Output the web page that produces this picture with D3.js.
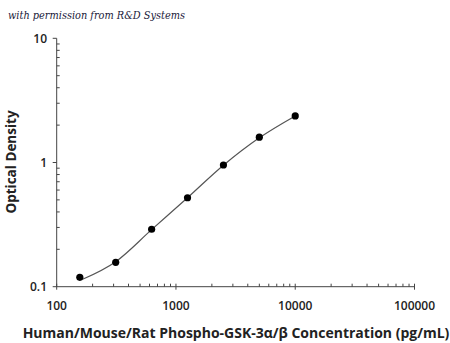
<!DOCTYPE html>
<html><head><meta charset="utf-8">
<script src="https://cdn.jsdelivr.net/npm/d3@7"></script>
<style>body{margin:0;background:#fff}svg{display:block}</style>
</head><body>
<svg id="c" width="450" height="343"></svg>
<script>
const concentrations = [156.25, 312.5, 625, 1250, 2500, 5000, 10000];
const odValues = [0.119, 0.157, 0.29, 0.52, 0.955, 1.6, 2.37];
const curveX = [165, 312.5, 625, 1250, 2500, 5000, 10000];
const curveY = [0.1147, 0.159, 0.288, 0.52, 0.95, 1.58, 2.37];
const xTickLabels = ["100", "1000", "10000", "100000"];
const yTickLabels = ["0.1", "1", "10"];

const svg = d3.select("#c");
const x = d3.scaleLog().domain([100, 100000]).range([56.7, 414.5]);
const y = d3.scaleLog().domain([0.1, 10]).range([286.7, 38.3]);
const font = "'Open Sans', 'DejaVu Sans', sans-serif";

svg.append("text").attr("x", 8).attr("y", 19)
  .attr("font-family", "'DejaVu Serif', serif").attr("font-style", "italic")
  .attr("font-size", 11).attr("fill", "#1a1a3a")
  .attr("textLength", 177).attr("lengthAdjust", "spacingAndGlyphs")
  .text("with permission from R&D Systems");

// minor ticks
const xMinor = [];
for (let d = 100; d < 100000; d *= 10) for (let k = 2; k <= 9; k++) xMinor.push(d * k);
const yMinor = [];
for (let d = 0.1; d < 10; d *= 10) for (let k = 2; k <= 9; k++) yMinor.push(+(d * k).toFixed(3));

const ax = svg.append("g").attr("stroke", "#444").attr("stroke-width", 1);
ax.append("line").attr("x1", x(100)).attr("x2", x(100000)).attr("y1", y(0.1)).attr("y2", y(0.1));
ax.append("line").attr("x1", x(100)).attr("x2", x(100)).attr("y1", y(0.1)).attr("y2", y(10));
ax.selectAll(".xm").data(xMinor).join("line")
  .attr("x1", d => x(d)).attr("x2", d => x(d)).attr("y1", y(0.1)).attr("y2", y(0.1) - 3);
ax.selectAll(".xM").data(xTickLabels).join("line")
  .attr("x1", d => x(+d)).attr("x2", d => x(+d)).attr("y1", y(0.1) - 3).attr("y2", y(0.1) + 3);
ax.selectAll(".ym").data(yMinor).join("line")
  .attr("x1", x(100)).attr("x2", x(100) + 3).attr("y1", d => y(d)).attr("y2", d => y(d));
ax.selectAll(".yM").data(yTickLabels).join("line")
  .attr("x1", x(100) - 4).attr("x2", x(100)).attr("y1", d => y(+d)).attr("y2", d => y(+d));

svg.selectAll(".xl").data(xTickLabels).join("text")
  .attr("x", d => x(+d)).attr("y", 310).attr("text-anchor", "middle")
  .attr("font-family", font).attr("font-size", 12).attr("font-weight", 600).attr("fill", "#222")
  .text(d => d);
svg.selectAll(".yl").data(yTickLabels).join("text")
  .attr("x", 47).attr("y", d => y(+d) + 4.5).attr("text-anchor", "end")
  .attr("font-family", font).attr("font-size", 12).attr("font-weight", 600).attr("fill", "#222")
  .text(d => d);

svg.append("text").attr("x", 236).attr("y", 338).attr("text-anchor", "middle")
  .attr("font-family", font).attr("font-size", 14).attr("font-weight", 700).attr("fill", "#222")
  .text("Human/Mouse/Rat Phospho-GSK-3α/β Concentration (pg/mL)");
svg.append("text").attr("transform", "translate(16,162) rotate(-90)").attr("text-anchor", "middle")
  .attr("font-family", font).attr("font-size", 13.5).attr("font-weight", 700).attr("fill", "#222")
  .text("Optical Density");

const line = d3.line().x(d => x(d[0])).y(d => y(d[1])).curve(d3.curveMonotoneX);
svg.append("path").datum(curveX.map((v, i) => [v, curveY[i]]))
  .attr("d", line).attr("fill", "none").attr("stroke", "#555").attr("stroke-width", 1.2);

svg.selectAll(".pt").data(concentrations).join("circle")
  .attr("cx", d => x(d)).attr("cy", (d, i) => y(odValues[i])).attr("r", 3.6).attr("fill", "#000");
</script>
</body></html>
